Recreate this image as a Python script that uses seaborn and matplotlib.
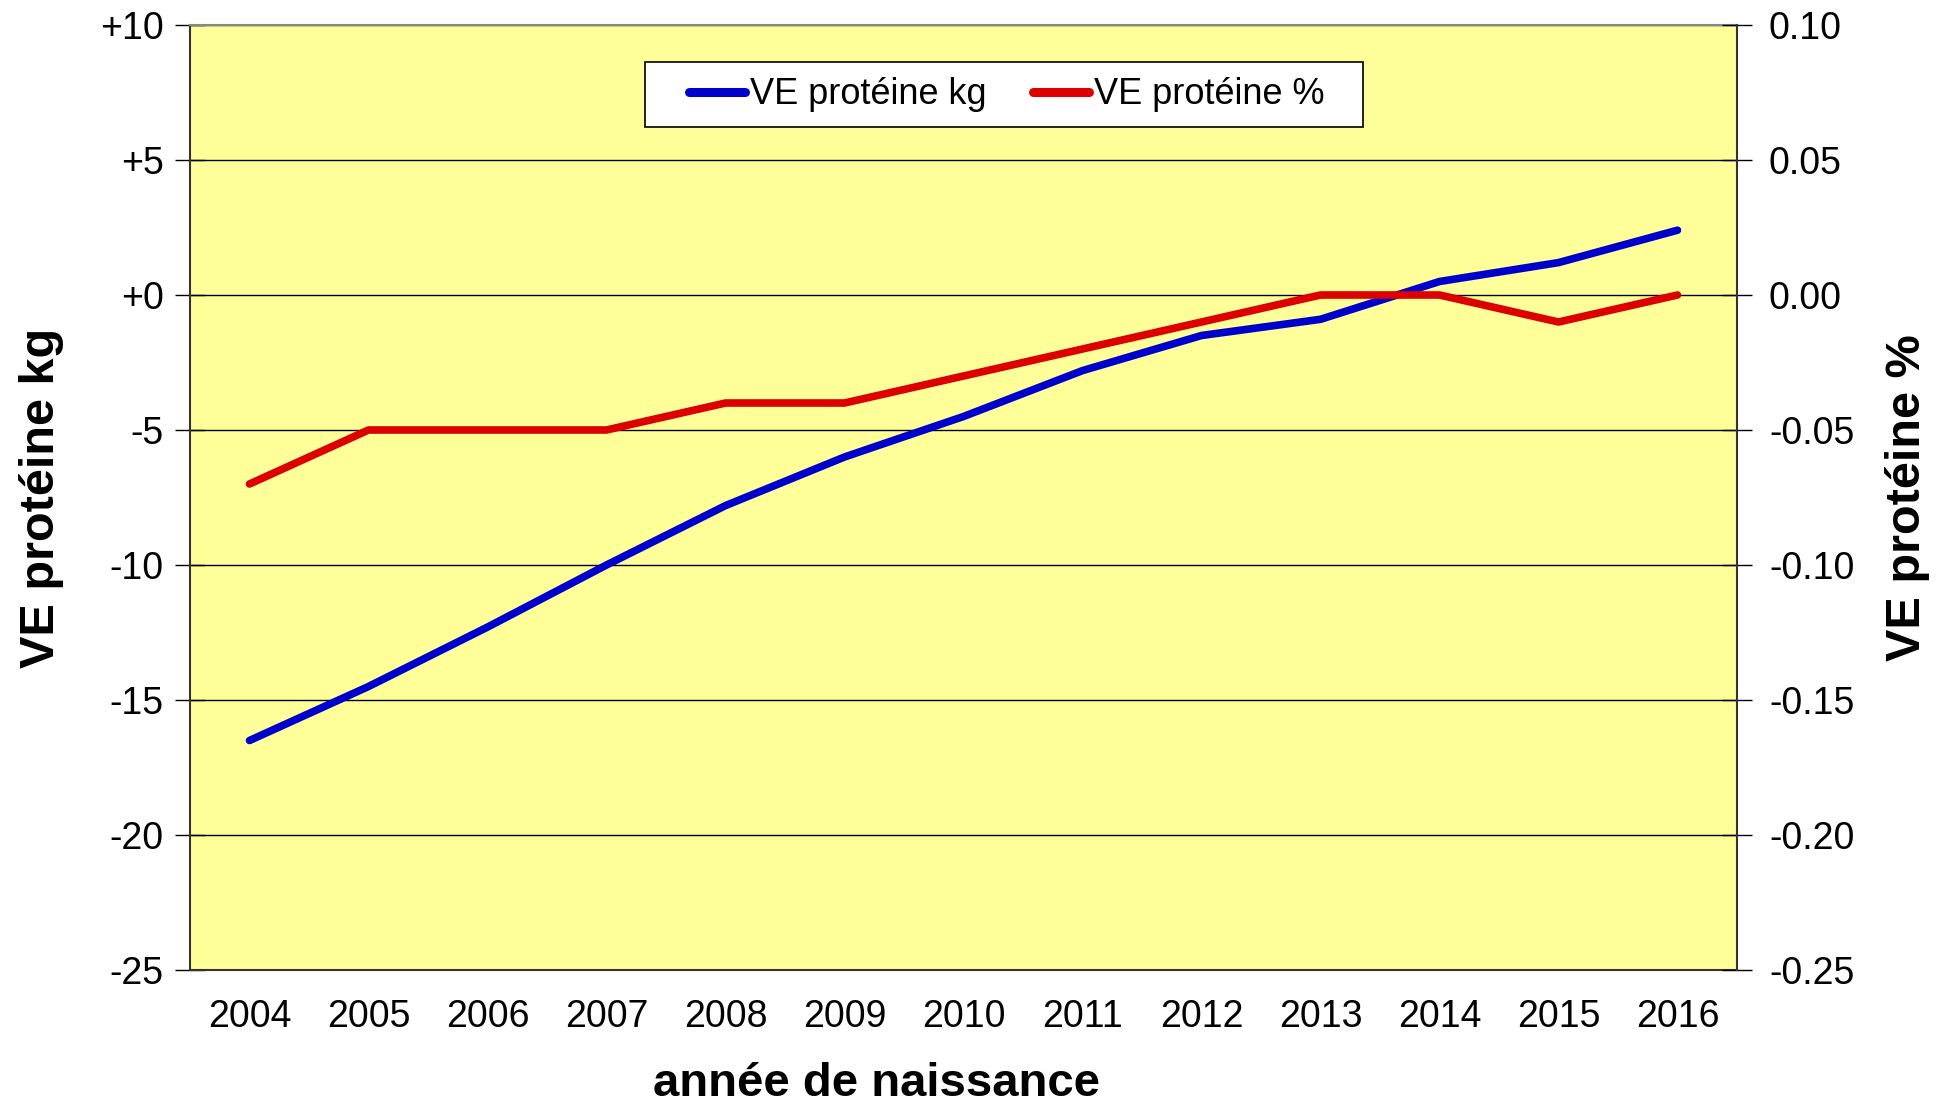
import numpy as np
import pandas as pd
import matplotlib
matplotlib.use("Agg")
import matplotlib.pyplot as plt
import seaborn as sns
from matplotlib.patches import Rectangle
from matplotlib.ticker import FixedLocator, FuncFormatter

# Data
years = [2004, 2005, 2006, 2007, 2008, 2009, 2010, 2011, 2012, 2013, 2014, 2015, 2016]
ve_kg = [-16.5, -14.5, -12.3, -10.0, -7.8, -6.0, -4.5, -2.8, -1.5, -0.9, 0.5, 1.2, 2.4]
ve_pct = [-0.07, -0.05, -0.05, -0.05, -0.04, -0.04, -0.03, -0.02, -0.01, 0.00, 0.00, -0.01, 0.00]
kg_ticks = [-25, -20, -15, -10, -5, 0, 5, 10]
pct_ticks = [-0.25, -0.20, -0.15, -0.10, -0.05, 0.00, 0.05, 0.10]

df = pd.DataFrame({"year": years, "kg": ve_kg, "pct": ve_pct})

sns.set_style("white")
plt.rcParams["font.family"] = ["Liberation Sans", "DejaVu Sans"]
plt.rcParams["axes.unicode_minus"] = False
plt.rcParams["text.color"] = "black"
plt.rcParams["axes.labelcolor"] = "black"
plt.rcParams["xtick.color"] = "black"
plt.rcParams["ytick.color"] = "black"

blue = "#0000CC"
red = "#DD0000"

fig = plt.figure(figsize=(19.5, 11.03), dpi=100)
ax = fig.add_axes([190 / 1950, 1 - 970 / 1103, 1547 / 1950, 945 / 1103])
ax2 = ax.twinx()

ax.set_facecolor("#FFFF99")
ax.set_zorder(ax2.get_zorder() - 1)
ax2.patch.set_visible(False)

# grid lines on the left scale
for v in kg_ticks:
    ax.axhline(v, color="black", lw=1.0, zorder=1)

sns.lineplot(data=df, x="year", y="kg", ax=ax2, color=blue, lw=5.5,
             solid_capstyle="round", label="VE protéine kg", legend=False)
ax3 = ax2.twinx()
ax3.set_axis_off()
sns.lineplot(data=df, x="year", y="pct", ax=ax3, color=red, lw=5.5,
             solid_capstyle="round", label="VE protéine %", legend=False)

for a in (ax, ax2):
    a.set_ylim(-25, 10)
ax3.set_ylim(-0.25, 0.10)
for a in (ax, ax2, ax3):
    a.set_xlim(2003.5, 2016.5)

# left axis
ax.yaxis.set_major_locator(FixedLocator(kg_ticks))
ax.yaxis.set_major_formatter(FuncFormatter(lambda v, p: f"{v:+.0f}" if v >= 0 else f"{v:.0f}"))
ax.tick_params(axis="y", labelsize=27, direction="inout", length=22, width=1, pad=8)
ax.set_ylabel("VE protéine kg", fontsize=35, fontweight="bold", labelpad=26)

# right axis shows % scale
ax2.set_ylabel("")
ax2.set_yticks([])
axr = ax.twinx()
axr.set_ylim(-0.25, 0.10)
axr.yaxis.set_major_locator(FixedLocator(pct_ticks))
axr.yaxis.set_major_formatter(FuncFormatter(lambda v, p: f"{v:.2f}"))
axr.tick_params(axis="y", labelsize=27, direction="inout", length=22, width=1, pad=12)
axr.set_ylabel("VE protéine %", fontsize=35, fontweight="bold", rotation=90, labelpad=22)
axr.patch.set_visible(False)

# x axis: labels centred, ticks between categories
ax.set_xticks(years)
ax.set_xticklabels([str(y) for y in years], fontsize=27)
ax.set_xticks([y - 0.5 for y in years] + [years[-1] + 0.5], minor=True)
ax.tick_params(axis="x", which="major", length=0, pad=21)
ax.tick_params(axis="x", which="minor", direction="inout", length=22, width=1)
ax.set_xlabel("année de naissance", fontsize=34, fontweight="bold")
ax.xaxis.set_label_coords(0.444, -0.097)
ax2.set_xlabel("")
ax3.set_xlabel("")
ax2.tick_params(axis="x", bottom=False, labelbottom=False)

for a in (ax, ax2, ax3, axr):
    for s in a.spines.values():
        s.set_visible(False)
ax.spines["left"].set_visible(True)
ax.spines["left"].set_color("#333333")
ax.spines["bottom"].set_visible(True)
ax.spines["bottom"].set_color("#333333")
ax.spines["top"].set_visible(True)
ax.spines["top"].set_color("#888888")
axr.spines["right"].set_visible(True)
axr.spines["right"].set_color("#333333")
for s in ("left", "bottom", "top"):
    ax.spines[s].set_linewidth(1.5)
axr.spines["right"].set_linewidth(1.5)

# legend box (wider than matplotlib's own padding allows)
box = Rectangle((0.294, 0.892), 0.464, 0.069, transform=axr.transAxes,
                facecolor="white", edgecolor="black", lw=1.2, zorder=5)
axr.add_patch(box)
handles = ax2.get_lines()[:1] + ax3.get_lines()[:1]
leg = axr.legend(handles, ["VE protéine kg", "VE protéine %"], ncol=2,
                 loc="center", bbox_to_anchor=(0.528, 0.926), fontsize=26,
                 frameon=False, handlelength=1.55,
                 handletextpad=0.15, columnspacing=1.27, borderpad=0,
                 borderaxespad=0)
leg.set_zorder(6)
for h in leg.legend_handles:
    h.set_linewidth(6.5)

fig.savefig("out.png", dpi=100)
